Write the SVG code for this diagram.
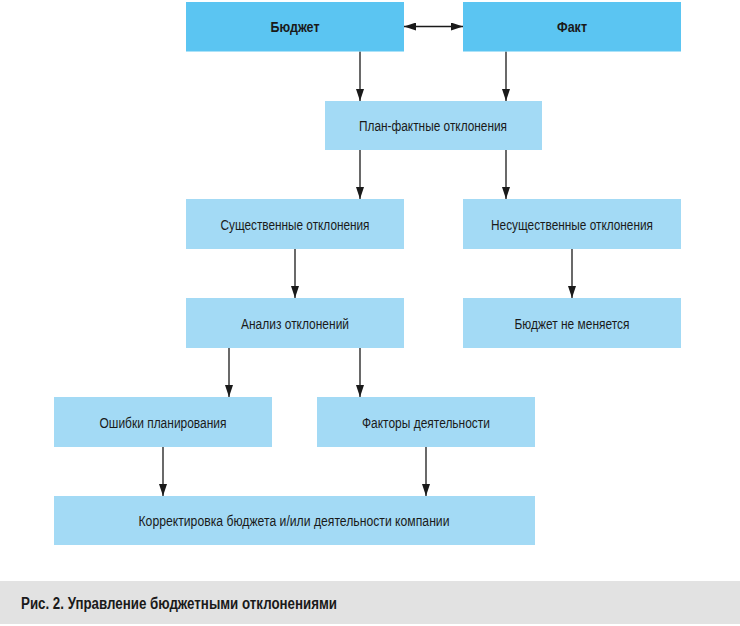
<svg xmlns="http://www.w3.org/2000/svg" width="740" height="626" viewBox="0 0 740 626">
<style>
.top{fill:#5BC5F2}
.box{fill:#A3DAF5}
.t{font-family:"Liberation Sans",Arial,sans-serif;font-size:14px;fill:#1a1a1a;text-anchor:middle}
.b{font-weight:bold;font-size:15px}
.cap{font-family:"Liberation Sans",Arial,sans-serif;font-size:16px;font-weight:bold;fill:#1a1a1a}
.c{stroke:#1a1a1a;stroke-width:1.3;fill:none;marker-end:url(#ah)}
</style>
<defs>
<marker id="ah" markerUnits="userSpaceOnUse" markerWidth="12" markerHeight="8" refX="12" refY="4" orient="auto-start-reverse">
<path d="M0,0 L12,4 L0,8 z" fill="#1a1a1a"/>
</marker>
</defs>
<rect x="0" y="0" width="740" height="626" fill="#fff"/>
<g id="connectors">
<path class="c" d="M404,26.5 H463" marker-start="url(#ah)"/>
<path class="c" d="M360,51.5 V101"/>
<path class="c" d="M506,51.5 V101"/>
<path class="c" d="M360,150 V199"/>
<path class="c" d="M506,150 V199"/>
<path class="c" d="M295,249 V298"/>
<path class="c" d="M572,249 V298"/>
<path class="c" d="M229,348 V397"/>
<path class="c" d="M360,348 V397"/>
<path class="c" d="M163,447 V496"/>
<path class="c" d="M426,447 V496"/>
</g>
<g id="budget"><rect class="top" x="186" y="2" width="218" height="49.5"/><text class="t b" x="295" y="32" textLength="49" lengthAdjust="spacingAndGlyphs">Бюджет</text></g>
<g id="fact"><rect class="top" x="463" y="2" width="218" height="49.5"/><text class="t b" x="572" y="32" textLength="30" lengthAdjust="spacingAndGlyphs">Факт</text></g>
<g id="planfact"><rect class="box" x="325" y="101" width="217" height="49"/><text class="t" x="433" y="131" textLength="148" lengthAdjust="spacingAndGlyphs">План-фактные отклонения</text></g>
<g id="significant"><rect class="box" x="186" y="199" width="218" height="50"/><text class="t" x="295" y="229.5" textLength="149" lengthAdjust="spacingAndGlyphs">Существенные отклонения</text></g>
<g id="insignificant"><rect class="box" x="463" y="199" width="218" height="50"/><text class="t" x="572" y="229.5" textLength="162" lengthAdjust="spacingAndGlyphs">Несущественные отклонения</text></g>
<g id="analysis"><rect class="box" x="186" y="298" width="218" height="50"/><text class="t" x="295" y="328.5" textLength="108" lengthAdjust="spacingAndGlyphs">Анализ отклонений</text></g>
<g id="nochange"><rect class="box" x="463" y="298" width="218" height="50"/><text class="t" x="572" y="328.5" textLength="115" lengthAdjust="spacingAndGlyphs">Бюджет не меняется</text></g>
<g id="errors"><rect class="box" x="54" y="397" width="218" height="50"/><text class="t" x="163" y="427.5" textLength="127" lengthAdjust="spacingAndGlyphs">Ошибки планирования</text></g>
<g id="factors"><rect class="box" x="317" y="397" width="218" height="50"/><text class="t" x="426" y="427.5" textLength="128" lengthAdjust="spacingAndGlyphs">Факторы деятельности</text></g>
<g id="correction"><rect class="box" x="54" y="496" width="481" height="49"/><text class="t" x="294" y="526" textLength="311" lengthAdjust="spacingAndGlyphs">Корректировка бюджета и/или деятельности компании</text></g>
<g id="caption"><rect x="0" y="581" width="740" height="43" fill="#E2E2E2"/><text class="cap" x="21" y="609" textLength="316" lengthAdjust="spacingAndGlyphs">Рис. 2. Управление бюджетными отклонениями</text></g>
</svg>
